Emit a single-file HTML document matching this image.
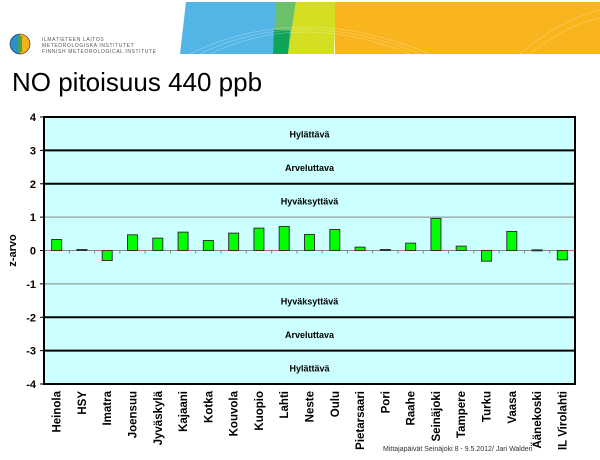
<!DOCTYPE html>
<html><head><meta charset="utf-8"><style>
body{margin:0;width:600px;height:455px;background:#fff;overflow:hidden;font-family:"Liberation Sans",sans-serif}
</style></head><body>
<svg width="600" height="455" xmlns="http://www.w3.org/2000/svg">
<g>
<polygon points="186,2 277,2 274,54 180,54" fill="#52b5e6"/>
<polygon points="276,2 296,2 288,54 273,54" fill="#6cc06a"/>
<polygon points="274,30 290,30 288,54 273,54" fill="#0fa45a"/>
<polygon points="296,2 336,2 334,54 288,54" fill="#d4df22"/>
<rect x="335" y="2" width="265" height="52" fill="#f8b51e"/>
<path d="M190,54 Q300,0 430,54 M200,54 Q300,5 420,54 M210,54 Q300,10 410,54" stroke="#fff" stroke-opacity="0.4" fill="none" stroke-width="0.6"/>
<path d="M520,54 Q560,20 600,10 M530,54 Q565,25 600,18" stroke="#fff" stroke-opacity="0.4" fill="none" stroke-width="0.6"/>
</g>
<g>
<circle cx="20" cy="44" r="10" fill="#2b8ed0"/>
<path d="M20,34 A10,10 0 0 1 20,54 Z" fill="#f6b21b"/>
<rect x="18" y="36" width="4" height="16" fill="#4aa54a"/>
<circle cx="20" cy="44" r="10" fill="none" stroke="#222" stroke-width="0.6"/>
<text x="42" y="41" font-size="5" fill="#555" letter-spacing="0.6">ILMATIETEEN LAITOS</text>
<text x="42" y="47" font-size="5" fill="#555" letter-spacing="0.6">METEOROLOGISKA INSTITUTET</text>
<text x="42" y="53" font-size="5" fill="#555" letter-spacing="0.6">FINNISH METEOROLOGICAL INSTITUTE</text>
</g>
<text x="12" y="91" font-size="26" fill="#000">NO pitoisuus 440 ppb</text>
<g id="chart"></g>
<text x="383" y="451" font-size="7" fill="#333">Mittajapäivät Seinäjoki 8 - 9.5.2012/ Jari Walden</text>
</svg>
<script>
const categories=["Heinola","HSY","Imatra","Joensuu","Jyväskylä","Kajaani","Kotka","Kouvola","Kuopio","Lahti","Neste","Oulu","Pietarsaari","Pori","Raahe","Seinäjoki","Tampere","Turku","Vaasa","Äänekoski","IL Virolahti"];
const values=[0.33,0.03,-0.3,0.47,0.37,0.55,0.3,0.52,0.67,0.72,0.48,0.63,0.1,0.03,0.22,0.96,0.13,-0.32,0.57,0.02,-0.28];
const yTicks=[4,3,2,1,0,-1,-2,-3,-4];
const zoneLabels=["Hylättävä","Arveluttava","Hyväksyttävä","Hyväksyttävä","Arveluttava","Hylättävä"];
const zoneCenters=[3.5,2.5,1.5,-1.5,-2.5,-3.5];
const NS="http://www.w3.org/2000/svg";
const L=44,R=575,T=117,B=384,yMin=-4,yMax=4;
const y=v=>T+(yMax-v)/(yMax-yMin)*(B-T);
const band=(R-L)/categories.length;
const x=i=>L+band*(i+0.5);
const g=document.getElementById('chart');
function mk(t,a){const e=document.createElementNS(NS,t);for(const k in a)e.setAttribute(k,a[k]);g.appendChild(e);return e;}
let e=mk('rect',{x:L,y:T,width:R-L,height:B-T,fill:'#ccffff'});


yTicks.forEach(t=>{
  const thick=Math.abs(t)>=2&&Math.abs(t)<4;
  if(Math.abs(t)!==4&&t!==0){const l=mk('line',{x1:L,x2:R,y1:y(t),y2:y(t),stroke:thick?'#000':'#888',"stroke-width":thick?2:1});
  
  }
  const tx=mk('text',{x:L-8,y:y(t)+4,"text-anchor":"end","font-size":11,"font-weight":"bold"});
  tx.textContent=t;
  
  
  mk('line',{x1:L-4,x2:L,y1:y(t),y2:y(t),stroke:'#000'});
});
mk('line',{x1:L,x2:R,y1:y(0),y2:y(0),stroke:'#888'});
zoneLabels.forEach((s,i)=>{
  const tx=mk('text',{x:(L+R)/2,y:y(zoneCenters[i])+4,"text-anchor":"middle","font-size":9,"font-weight":"bold"});
  tx.textContent=s;
  
  
});
categories.forEach((c,i)=>{
  if(i>0)mk('line',{x1:L+band*i,x2:L+band*i,y1:y(0),y2:y(0)+3,stroke:'#888'});
  const v=values[i];
  const r=mk('rect',{x:x(i)-5,y:Math.min(y(v),y(0)),width:10,height:Math.max(1,Math.abs(y(v)-y(0))),fill:'#00ff00',stroke:'#333',"stroke-width":1});
  
  
  const tx=mk('text',{transform:`translate(${x(i)+4},391) rotate(-90)`,"text-anchor":"end","font-size":11.5,"font-weight":"bold"});
  tx.textContent=c;
  
  
});
e=mk('rect',{x:L,y:T,width:R-L,height:B-T,fill:'none',stroke:'#000',"stroke-width":2});


const yt=mk('text',{transform:`translate(16,${(T+B)/2}) rotate(-90)`,"text-anchor":"middle","font-size":11,"font-weight":"bold"});
yt.textContent='z-arvo';


</script>
</body></html>
